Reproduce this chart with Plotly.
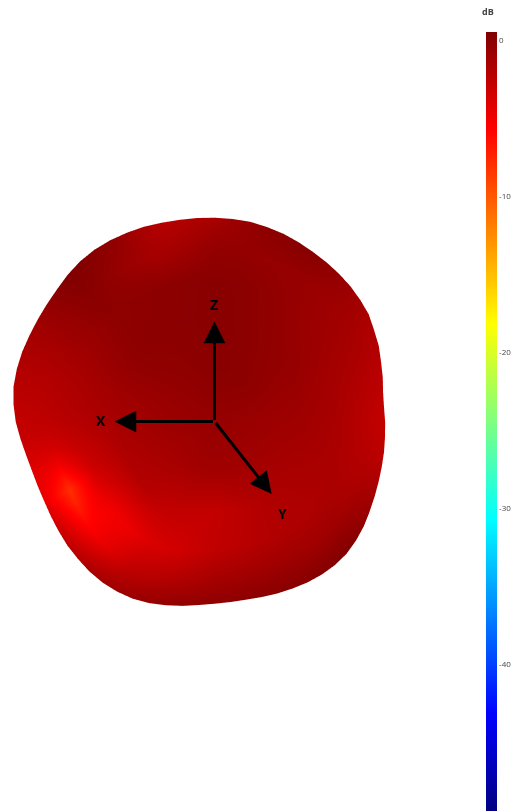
import numpy as np
import plotly.graph_objects as go

# polar grid seen from the viewer: angle round the blob, fraction of the edge radius
angle_deg = list(range(0, 360, 5))
ring_frac = [0.0, 0.25, 0.5, 0.7, 0.85, 1.0]

# silhouette radius per angle
edge_radius = [
    169.5, 169, 170, 173, 176, 180, 183, 187, 189, 191, 192.5, 194,
    195.5, 197.5, 199.5, 201, 202.5, 203, 203.5, 204, 204.5, 205.5, 207, 208,
    209, 209.5, 209, 207.5, 205.5, 204.5, 204, 204, 204.4, 204.4, 203.8, 201.5,
    198.5, 194.5, 191, 188.7, 187.8, 187.6, 188.6, 190, 191.8, 193, 194.5, 195.3,
    195.1, 194.2, 192, 189, 186, 183, 181, 180, 179.7, 180.5, 181.8, 183,
    184.5, 185.5, 186, 185.5, 183.5, 181, 178, 175.5, 173.5, 172, 171, 170,
]

# gain in dB, one row per ring
gain_db = [
    [-0.6] * 72,
    [-0.9, -0.85, -0.8, -0.7, -0.65, -0.6, -0.5, -0.45, -0.35, -0.3, -0.25, -0.2,
     -0.15, -0.1, -0.1, -0.05, -0.05, -0.05, -0.05, -0.1, -0.15, -0.2, -0.25, -0.3,
     -0.35, -0.4, -0.45, -0.5, -0.55, -0.6, -0.7, -0.75, -0.8, -0.85, -0.9, -0.95,
     -1.0, -1.0, -1.05, -1.1, -1.15, -1.2, -1.25, -1.3, -1.3, -1.3, -1.3, -1.3,
     -1.25, -1.2, -1.2, -1.15, -1.15, -1.1, -1.1, -1.1, -1.1, -1.1, -1.1, -1.1,
     -1.1, -1.1, -1.1, -1.1, -1.05, -1.05, -1.0, -1.0, -0.95, -0.95, -0.9, -0.9],
    [-1.1, -1.05, -1.0, -0.95, -0.85, -0.8, -0.7, -0.65, -0.55, -0.5, -0.45, -0.4,
     -0.3, -0.25, -0.2, -0.1, -0.05, 0.0, 0.0, -0.02, -0.05, -0.08, -0.1, -0.12,
     -0.15, -0.17, -0.2, -0.2, -0.3, -0.45, -0.6, -0.8, -1.0, -1.2, -1.3, -1.4,
     -1.5, -1.55, -1.65, -1.7, -1.8, -1.85, -1.9, -2.0, -2.1, -2.2, -2.4, -2.55,
     -2.7, -2.75, -2.8, -2.85, -2.9, -2.9, -2.9, -2.75, -2.6, -2.45, -2.3, -2.15,
     -2.0, -1.9, -1.8, -1.75, -1.65, -1.6, -1.5, -1.45, -1.4, -1.3, -1.25, -1.15],
    [-1.5, -1.45, -1.4, -1.35, -1.3, -1.25, -1.15, -1.05, -0.95, -0.9, -0.8, -0.65,
     -0.5, -0.4, -0.3, -0.2, -0.1, -0.05, 0.0, -0.05, -0.1, -0.15, -0.2, -0.2,
     -0.25, -0.25, -0.3, -0.3, -0.55, -0.8, -1.0, -1.25, -1.5, -1.7, -1.85, -2.0,
     -2.2, -2.45, -2.8, -3.1, -3.4, -3.85, -4.3, -4.8, -5.2, -5.15, -5.0, -4.6,
     -4.2, -3.9, -3.7, -3.5, -3.2, -2.95, -2.7, -2.55, -2.4, -2.25, -2.1, -2.0,
     -1.9, -1.85, -1.8, -1.8, -1.75, -1.7, -1.7, -1.65, -1.6, -1.6, -1.55, -1.55],
    [-2.2, -2.1, -2.0, -1.9, -1.75, -1.6, -1.45, -1.3, -1.15, -1.0, -0.9, -0.8,
     -0.7, -0.65, -0.6, -0.55, -0.5, -0.5, -0.5, -0.8, -1.1, -1.3, -1.4, -1.1,
     -0.8, -0.5, -0.2, 0.0, -0.3, -0.7, -1.0, -1.4, -1.7, -2.0, -2.2, -2.4,
     -2.6, -3.1, -3.8, -5.0, -6.5, -8.0, -7.5, -6.6, -5.8, -5.1, -4.4, -3.6,
     -2.8, -2.5, -2.3, -2.1, -1.9, -1.7, -1.5, -1.4, -1.3, -1.2, -1.1, -1.05,
     -1.0, -1.05, -1.1, -1.1, -1.1, -1.3, -1.5, -1.7, -1.9, -2.0, -2.1, -2.15],
    [-2.9, -2.8, -2.6, -2.45, -2.3, -2.1, -1.9, -1.6, -1.2, -0.9, -0.5, -0.2,
     0.1, 0.1, 0.0, -0.2, -0.6, -1.0, -1.5, -1.8, -2.1, -2.2, -1.7, -1.0,
     -0.3, 0.0, 0.3, 0.4, 0.0, -0.5, -1.0, -1.4, -1.7, -2.0, -2.3, -2.6,
     -2.8, -3.0, -3.6, -4.2, -4.5, -4.6, -3.8, -3.0, -2.5, -2.0, -1.5, -1.2,
     -1.0, -0.8, -0.6, -0.5, -0.4, -0.35, -0.3, -0.25, -0.2, -0.1, 0.0, 0.05,
     0.1, 0.2, 0.3, 0.4, 0.1, -0.3, -0.8, -1.2, -1.7, -2.2, -2.5, -2.7],
]

gain_ticks = [0, -10, -20, -30, -40]
tick_text = ["0", "-10", "-20", "-30", "-40"]

# triad tips and labels, in page pixels
origin_px = (214.5, 421.5)
tip_px = {"X": (114.5, 421.5), "Y": (271.7, 494.0), "Z": (214.5, 321.5)}
label_px = {"X": (100.5, 420), "Y": (282.7, 513), "Z": (214, 304)}
title_px = (488, 12)

JET = [[0, "#000080"], [0.125, "#0000ff"], [0.375, "#00ffff"],
       [0.625, "#ffff00"], [0.875, "#ff0000"], [1, "#800000"]]

W, H = 511, 811
SCENE_W, SCENE_H = 430, 778


def px_x(x):
    return x / W


def px_y(y):
    return 1 - y / H


# close the ring so the seam does not show
ang = np.radians(angle_deg + [360])
edge = np.array(edge_radius + edge_radius[:1], dtype=float)
frac = np.array(ring_frac)[:, None]
gain = np.array([row + row[:1] for row in gain_db])

x = frac * edge * np.cos(ang)
y = frac * edge * np.sin(ang)
z = np.sqrt(1 - frac ** 2) * edge * np.ones_like(ang)

surf = go.Surface(
    x=x, y=y, z=z,
    surfacecolor=gain,
    cmin=-49.4, cmax=0.55,
    colorscale=JET,
    hoverinfo="skip",
    lighting=dict(ambient=1, diffuse=0, specular=0, fresnel=0, roughness=1),
    colorbar=dict(
        tickmode="array",
        tickvals=gain_ticks,
        ticktext=tick_text,
        ticks="",
        ticklabeloverflow="allow",
        tickfont=dict(size=8, family="Open Sans", color="#444"),
        thickness=11,
        thicknessmode="pixels",
        len=779,
        lenmode="pixels",
        x=px_x(486),
        xanchor="left",
        y=px_y(32),
        yanchor="top",
        xpad=0,
        ypad=0,
        outlinewidth=0,
    ),
)

fig = go.Figure(surf)

notes = [dict(
    x=px_x(title_px[0]), y=px_y(title_px[1]), xref="paper", yref="paper",
    xanchor="center", yanchor="middle",
    text="<b>dB</b>", showarrow=False,
    font=dict(size=9, family="Open Sans", color="#444"),
)]
for name, tip in tip_px.items():
    notes.append(dict(
        x=px_x(tip[0]), y=px_y(tip[1]), xref="paper", yref="paper",
        ax=origin_px[0] - tip[0], ay=origin_px[1] - tip[1],
        axref="pixel", ayref="pixel",
        text="", showarrow=True,
        arrowhead=2, arrowwidth=3, arrowsize=1.45, arrowcolor="#000000",
    ))
    lab = label_px[name]
    notes.append(dict(
        x=px_x(lab[0]), y=px_y(lab[1]), xref="paper", yref="paper",
        xanchor="center", yanchor="middle",
        text="<b>%s</b>" % name, showarrow=False,
        font=dict(size=14, family="Open Sans", color="#000000"),
    ))

hidden = dict(visible=False, range=[-255, 255], showgrid=False, zeroline=False)

fig.update_layout(
    width=W, height=H,
    margin=dict(l=0, r=0, t=0, b=0),
    paper_bgcolor="#ffffff",
    annotations=notes,
    scene=dict(
        domain=dict(x=[0, SCENE_W / W], y=[0, SCENE_H / H]),
        xaxis=hidden, yaxis=hidden, zaxis=hidden,
        aspectmode="manual",
        aspectratio=dict(x=1.316, y=1.316, z=1.316),
        camera=dict(
            eye=dict(x=0, y=0, z=1.515),
            up=dict(x=0, y=1, z=0),
            center=dict(x=0, y=0, z=0),
            projection=dict(type="orthographic"),
        ),
    ),
)

fig.write_html(
    "out.html",
    config=dict(displayModeBar=False),
    post_script="document.body.style.margin='0';document.documentElement.style.overflow='hidden';",
)
